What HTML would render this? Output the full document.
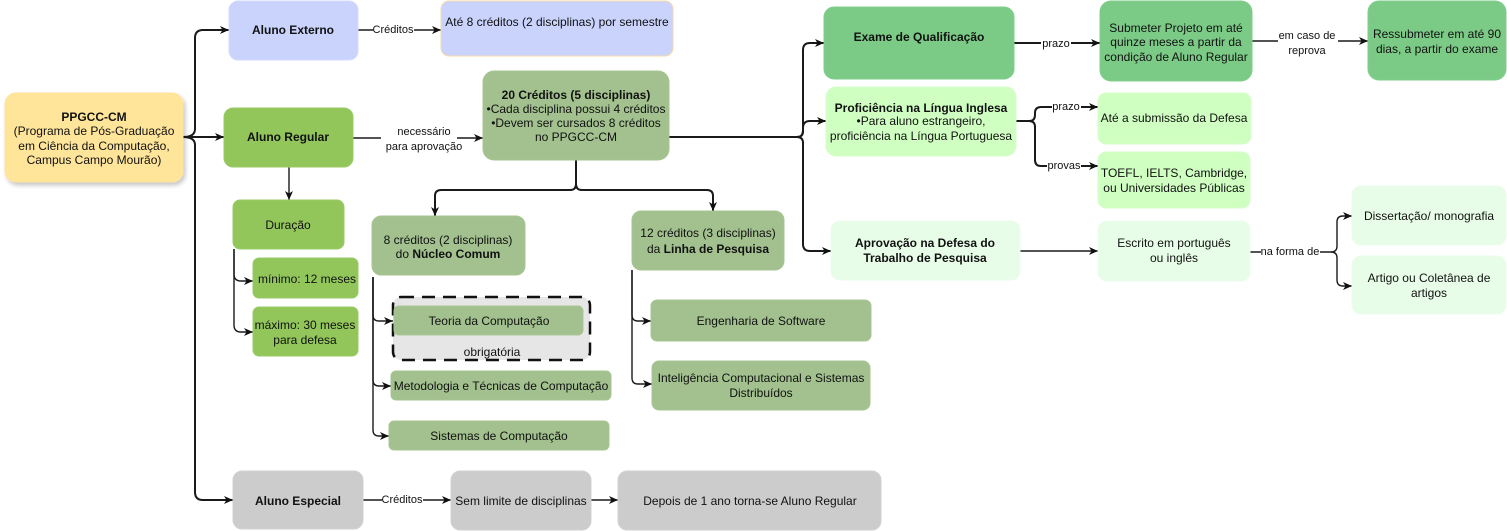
<!DOCTYPE html>
<html><head><meta charset="utf-8"><style>
html,body{margin:0;padding:0;background:#fff;}
svg{display:block;}
text{font-family:"Liberation Sans",Arial,sans-serif;font-size:12px;fill:#111;}
.b{font-weight:bold;}
.l{font-size:11px;}
.e{fill:none;stroke:#1a1a1a;stroke-width:1.4;}
.t{fill:none;stroke:#1a1a1a;stroke-width:2;}
</style></head><body>
<svg width="1507" height="531" viewBox="0 0 1507 531" xmlns="http://www.w3.org/2000/svg">
<defs>
<marker id="a" markerWidth="10" markerHeight="8" refX="9" refY="4" orient="auto" markerUnits="userSpaceOnUse"><path d="M0,0 L9,4 L0,8 L2.5,4 z" fill="#111"/></marker>
<filter id="sh" x="-10%" y="-10%" width="130%" height="130%"><feDropShadow dx="2" dy="3" stdDeviation="2" flood-color="#000" flood-opacity="0.22"/></filter>
</defs>

<!-- edges -->
<g>
<path class="t" d="M183,137 Q195,137 195,129 V38 Q195,30 203,30 H229" marker-end="url(#a)"/>
<path class="t" d="M183,137 H224" marker-end="url(#a)"/>
<path class="t" d="M183,137 Q195,137 195,145 V492 Q195,500 203,500 H233" marker-end="url(#a)"/>
<path class="e" d="M358,30 H441" marker-end="url(#a)"/>
<path class="e" d="M353,138 H483" marker-end="url(#a)"/>
<path class="e" d="M289,167 V200" marker-end="url(#a)"/>
<path class="e" d="M234,249 V274 Q234,281 241,281 H253" marker-end="url(#a)"/>
<path class="e" d="M234,249 V325 Q234,332 241,332 H253" marker-end="url(#a)"/>
<path class="t" d="M576,160 V184 Q576,190 570,190 H441 Q435,190 435,196 V216" marker-end="url(#a)"/>
<path class="t" d="M576,184 Q576,190 582,190 H707 Q713,190 713,196 V211" marker-end="url(#a)"/>
<path class="t" d="M669,137 H797 Q803,137 803,131 V50 Q803,43 810,43 H824" marker-end="url(#a)"/>
<path class="t" d="M797,137 Q803,137 803,131 V128 Q803,121 810,121 H826" marker-end="url(#a)"/>
<path class="t" d="M797,137 Q803,137 803,143 V244 Q803,251 810,251 H831" marker-end="url(#a)"/>
<path class="t" d="M1014,43 H1100" marker-end="url(#a)"/>
<path class="e" d="M1252,41 H1368" marker-end="url(#a)"/>
<path class="t" d="M1016,121 H1029 Q1035,121 1035,115 V113 Q1035,107 1041,107 H1098" marker-end="url(#a)"/>
<path class="t" d="M1016,121 H1029 Q1035,121 1035,127 V160 Q1035,166 1041,166 H1098" marker-end="url(#a)"/>
<path class="e" d="M1020,251 H1098" marker-end="url(#a)"/>
<path class="e" d="M1250,252 H1331 Q1337,252 1337,246 V222 Q1337,216 1343,216 H1352" marker-end="url(#a)"/>
<path class="e" d="M1331,252 Q1337,252 1337,258 V280 Q1337,286 1343,286 H1352" marker-end="url(#a)"/>
<path class="e" d="M373,277 V315 Q373,321 379,321 H393" marker-end="url(#a)"/>
<path class="e" d="M373,277 V380 Q373,386 379,386 H391" marker-end="url(#a)"/>
<path class="e" d="M373,277 V430 Q373,436 379,436 H389" marker-end="url(#a)"/>
<path class="e" d="M632,270 V315 Q632,321 638,321 H651" marker-end="url(#a)"/>
<path class="e" d="M632,270 V378 Q632,384 638,384 H652" marker-end="url(#a)"/>
<path class="e" d="M363,500 H451" marker-end="url(#a)"/>
<path class="e" d="M591,500 H618" marker-end="url(#a)"/>
</g>

<!-- edge labels -->
<rect x="373" y="23" width="41" height="14" fill="#fff"/>
<text class="l" x="393" y="30" text-anchor="middle" dominant-baseline="central">Créditos</text>
<rect x="381" y="123" width="76" height="32" fill="#fff"/>
<text class="l" x="424" y="132" text-anchor="middle" dominant-baseline="central">necessário</text>
<text class="l" x="424" y="147" text-anchor="middle" dominant-baseline="central">para aprovação</text>
<rect x="1041" y="37" width="30" height="14" fill="#fff"/>
<text class="l" x="1056" y="44" text-anchor="middle" dominant-baseline="central">prazo</text>
<rect x="1278" y="28" width="60" height="31" fill="#fff"/>
<text class="l" x="1307" y="36" text-anchor="middle" dominant-baseline="central">em caso de</text>
<text class="l" x="1307" y="51" text-anchor="middle" dominant-baseline="central">reprova</text>
<rect x="1052" y="100" width="29" height="14" fill="#fff"/>
<text class="l" x="1066" y="107" text-anchor="middle" dominant-baseline="central">prazo</text>
<rect x="1047" y="159" width="34" height="14" fill="#fff"/>
<text class="l" x="1064" y="166" text-anchor="middle" dominant-baseline="central">provas</text>
<rect x="1261" y="245" width="59" height="14" fill="#fff"/>
<text class="l" x="1290" y="252" text-anchor="middle" dominant-baseline="central">na forma de</text>
<rect x="382" y="493" width="41" height="14" fill="#fff"/>
<text class="l" x="402" y="500" text-anchor="middle" dominant-baseline="central">Créditos</text>

<!-- boxes -->
<rect x="5" y="93" width="178" height="89" rx="11" fill="#FFE599" stroke="#FFE3A0" filter="url(#sh)"/>
<rect x="229" y="1" width="129" height="59" rx="9" fill="#C9D3FC" stroke="#D3DBFC"/>
<rect x="441" y="1" width="232" height="55" rx="8" fill="#C9D3FC" stroke="#F8D8AA"/>
<rect x="224" y="108" width="129" height="59" rx="9" fill="#92C65A" stroke="#9ACB66"/>
<rect x="483" y="71" width="186" height="89" rx="11" fill="#A2C18E" stroke="#A8C594"/>
<rect x="824" y="7" width="190" height="72" rx="10" fill="#7BCB87" stroke="#82CE8D"/>
<rect x="1100" y="1" width="152" height="80" rx="11" fill="#7BCB87" stroke="#82CE8D"/>
<rect x="1368" y="1" width="138" height="79" rx="11" fill="#7BCB87" stroke="#82CE8D"/>
<rect x="826" y="87" width="190" height="69" rx="10" fill="#D0FFC2" stroke="#D6FDCB"/>
<rect x="1098" y="93" width="153" height="51" rx="8" fill="#D0FFC2" stroke="#D6FDCB"/>
<rect x="1098" y="152" width="152" height="56" rx="8" fill="#D0FFC2" stroke="#D6FDCB"/>
<rect x="831" y="221" width="189" height="59" rx="9" fill="#E8FDE8" stroke="#EBFCEB"/>
<rect x="1098" y="221" width="152" height="60" rx="9" fill="#E8FDE8" stroke="#EBFCEB"/>
<rect x="1352" y="186" width="154" height="59" rx="9" fill="#E8FDE8" stroke="#EBFCEB"/>
<rect x="1352" y="256" width="154" height="58" rx="9" fill="#E8FDE8" stroke="#EBFCEB"/>
<rect x="233" y="200" width="111" height="49" rx="7" fill="#92C65A" stroke="#9ACB66"/>
<rect x="253" y="258" width="105" height="40" rx="6" fill="#92C65A" stroke="#9ACB66"/>
<rect x="253" y="307" width="105" height="49" rx="6" fill="#92C65A" stroke="#9ACB66"/>
<rect x="372" y="216" width="153" height="59" rx="9" fill="#A2C18E" stroke="#A8C594"/>
<rect x="393" y="297" width="197" height="63" rx="8" fill="#E6E6E6" stroke="#111" stroke-width="2.5" stroke-dasharray="13 8"/>
<rect x="394" y="306" width="189" height="29" rx="5" fill="#A2C18E" stroke="#A8C594"/>
<rect x="391" y="371" width="220" height="29" rx="5" fill="#A2C18E" stroke="#A8C594"/>
<rect x="389" y="421" width="220" height="29" rx="5" fill="#A2C18E" stroke="#A8C594"/>
<rect x="632" y="211" width="152" height="59" rx="9" fill="#A2C18E" stroke="#A8C594"/>
<rect x="651" y="300" width="220" height="41" rx="6" fill="#A2C18E" stroke="#A8C594"/>
<rect x="652" y="361" width="218" height="49" rx="7" fill="#A2C18E" stroke="#A8C594"/>
<rect x="233" y="471" width="130" height="58" rx="9" fill="#CCCCCC" stroke="#D2D2D2"/>
<rect x="451" y="471" width="140" height="59" rx="9" fill="#CCCCCC" stroke="#D2D2D2"/>
<rect x="618" y="471" width="263" height="59" rx="9" fill="#CCCCCC" stroke="#D2D2D2"/>

<!-- box texts -->
<g text-anchor="middle" dominant-baseline="central">
<text class="b" x="94" y="117">PPGCC-CM</text>
<text x="94" y="131">(Programa de Pós-Graduação</text>
<text x="94" y="146">em Ciência da Computação,</text>
<text x="94" y="160">Campus Campo Mourão)</text>

<text class="b" x="293" y="30">Aluno Externo</text>
<text x="557" y="22">Até 8 créditos (2 disciplinas) por semestre</text>
<text class="b" x="288" y="137">Aluno Regular</text>

<text class="b" x="576" y="95">20 Créditos (5 disciplinas)</text>
<text x="576" y="109">•Cada disciplina possui 4 créditos</text>
<text x="576" y="123">•Devem ser cursados 8 créditos</text>
<text x="576" y="137">no PPGCC-CM</text>

<text class="b" x="919" y="37">Exame de Qualificação</text>
<text x="1176" y="28">Submeter Projeto em até</text>
<text x="1176" y="42">quinze meses a partir da</text>
<text x="1176" y="57">condição de Aluno Regular</text>
<text x="1437" y="34">Ressubmeter em até 90</text>
<text x="1437" y="49">dias, a partir do exame</text>

<text class="b" x="921" y="108">Proficiência na Língua Inglesa</text>
<text x="921" y="121">•Para aluno estrangeiro,</text>
<text x="921" y="136">proficiência na Língua Portuguesa</text>
<text x="1174" y="118">Até a submissão da Defesa</text>
<text x="1174" y="173">TOEFL, IELTS, Cambridge,</text>
<text x="1174" y="188">ou Universidades Públicas</text>

<text class="b" x="925" y="243">Aprovação na Defesa do</text>
<text class="b" x="925" y="258">Trabalho de Pesquisa</text>
<text x="1174" y="243">Escrito em português</text>
<text x="1174" y="258">ou inglês</text>
<text x="1429" y="216">Dissertação/ monografia</text>
<text x="1429" y="278">Artigo ou Coletânea de</text>
<text x="1429" y="293">artigos</text>

<text x="288" y="225">Duração</text>
<text x="307" y="279">mínimo: 12 meses</text>
<text x="305" y="325">máximo: 30 meses</text>
<text x="305" y="340">para defesa</text>

<text x="448" y="240">8 créditos (2 disciplinas)</text>
<text x="448" y="254">do <tspan class="b">Núcleo Comum</tspan></text>
<text x="489" y="321">Teoria da Computação</text>
<text x="492" y="352">obrigatória</text>
<text x="501" y="386">Metodologia e Técnicas de Computação</text>
<text x="499" y="436">Sistemas de Computação</text>

<text x="708" y="233">12 créditos (3 disciplinas)</text>
<text x="708" y="249">da <tspan class="b">Linha de Pesquisa</tspan></text>
<text x="761" y="321">Engenharia de Software</text>
<text x="761" y="378">Inteligência Computacional e Sistemas</text>
<text x="761" y="393">Distribuídos</text>

<text class="b" x="298" y="501">Aluno Especial</text>
<text x="521" y="501">Sem limite de disciplinas</text>
<text x="750" y="501">Depois de 1 ano torna-se Aluno Regular</text>
</g>
</svg>
</body></html>
